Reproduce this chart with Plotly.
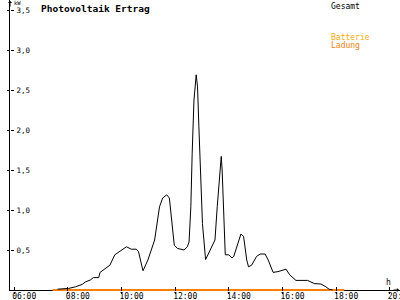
import plotly.graph_objects as go

DAY = "2024-06-01 "

# Gesamt (total PV yield, kW)
gesamt_time = ["07:37", "08:02", "08:17", "08:32", "08:39", "08:50", "08:57", "09:09", "09:12",
               "09:23", "09:34", "09:45", "09:56", "10:04", "10:11", "10:22", "10:33", "10:38",
               "10:48", "10:59", "11:14", "11:25", "11:32", "11:41", "11:47", "11:58", "12:05",
               "12:20", "12:27", "12:31", "12:35", "12:38", "12:42", "12:47", "12:50", "12:53",
               "12:57", "13:01", "13:08", "13:19", "13:29", "13:34", "13:39", "13:43", "13:45",
               "13:48", "13:52", "14:00", "14:07", "14:11", "14:18", "14:27", "14:33", "14:40",
               "14:44", "14:51", "15:02", "15:10", "15:21", "15:28", "15:39", "15:50", "16:08",
               "16:16", "16:30", "16:56", "17:11", "17:26", "17:37", "17:44", "17:52"]
gesamt_kw = [0.01, 0.02, 0.04, 0.07, 0.10, 0.125, 0.155, 0.155, 0.22,
             0.27, 0.31, 0.44, 0.48, 0.52, 0.54, 0.51, 0.51, 0.48,
             0.24, 0.375, 0.625, 1.04, 1.15, 1.19, 1.15, 0.56, 0.52,
             0.50, 0.54, 0.60, 1.04, 1.71, 2.375, 2.69, 2.54, 2.04,
             1.29, 0.83, 0.38, 0.52, 0.625, 1.04, 1.42, 1.67, 1.50,
             1.00, 0.44, 0.44, 0.40, 0.42, 0.54, 0.70, 0.67, 0.375,
             0.29, 0.31, 0.42, 0.45, 0.45, 0.375, 0.22, 0.23, 0.26,
             0.19, 0.12, 0.12, 0.08, 0.075, 0.04, 0.01, 0.0]

# Batterie Ladung (battery charge, kW)
ladung_time = ["07:26", "18:18"]
ladung_kw = [0.0, 0.0]

x_tick_labels = ["06:00", "08:00", "10:00", "12:00", "14:00", "16:00", "18:00", "20:00"]
y_tick_vals = [0.5, 1.0, 1.5, 2.0, 2.5, 3.0, 3.5]

FONT = "DejaVu Sans Mono"
ORANGE = "#FF8000"
AMBER = "#FFAA00"

W, H = 400, 300
ML, MB = 10, 9
PH = H - MB  # plot area height in px (291)

fig = go.Figure()
fig.add_trace(go.Scatter(x=[DAY + t for t in ladung_time], y=ladung_kw, mode="lines",
                         line=dict(color=ORANGE, width=2), hoverinfo="skip"))
fig.add_trace(go.Scatter(x=[DAY + t for t in gesamt_time], y=gesamt_kw, mode="lines",
                         line=dict(color="black", width=1), hoverinfo="skip"))

xrange = [DAY + "05:50:37", DAY + "20:22:44"]
kw_per_px = 3.625 / 290
yrange = [-kw_per_px, 3.625]
tickvals_x = [DAY + t for t in x_tick_labels]

fig.update_layout(
    width=W, height=H,
    margin=dict(l=ML, r=0, t=0, b=MB, autoexpand=False),
    paper_bgcolor="white", plot_bgcolor="white",
    showlegend=False,
    separators=",.",
    font=dict(family=FONT, size=8, color="black"),
    xaxis=dict(type="date", range=xrange, tickvals=tickvals_x, ticktext=x_tick_labels,
               ticks="outside", ticklen=2, tickcolor="black", showline=False,
               showgrid=False, zeroline=False, layer="below traces",
               ticklabelshift=10, ticklabelstandoff=-5, ticklabeloverflow="allow",
               automargin=False, tickfont=dict(family=FONT, size=8)),
    yaxis=dict(range=yrange, tickvals=y_tick_vals, showticklabels=False,
               ticks="outside", ticklen=2, tickcolor="black", showline=True, linecolor="black",
               linewidth=1, showgrid=False, zeroline=True, zerolinecolor="black",
               zerolinewidth=1, layer="below traces", automargin=False),
    xaxis2=dict(type="date", range=xrange, tickvals=tickvals_x, overlaying="x",
                ticks="inside", ticklen=4, tickcolor="black", showticklabels=False,
                showgrid=False, zeroline=False, showline=False),
    yaxis2=dict(range=yrange, tickvals=y_tick_vals, tickformat=".1f", overlaying="y",
                side="right", anchor="free", position=0,
                ticks="outside", ticklen=3, tickcolor="black", showticklabels=True,
                ticklabelstandoff=1, ticklabeloverflow="allow", automargin=False,
                showgrid=False, zeroline=False, showline=False,
                tickfont=dict(family=FONT, size=7.5)),
)
# empty trace to activate overlay axes (tick marks crossing the axis lines, y labels)
fig.add_trace(go.Scatter(x=[xrange[0]], y=[0], xaxis="x2", yaxis="y2", mode="none",
                         hoverinfo="skip"))

# axis arrows
fig.add_annotation(x=0, y=1, xref="paper", yref="paper", ax=0, ay=8, text="",
                   showarrow=True, arrowhead=1, arrowsize=0.7, arrowwidth=1, arrowcolor="black")
fig.add_annotation(x=1, y=0, xref="paper", yref="y", ax=-8, ay=0, text="",
                   showarrow=True, arrowhead=1, arrowsize=0.7, arrowwidth=1, arrowcolor="black")

texts = [
    dict(x=40, y=2, text="<b>Photovoltaik Ertrag</b>", size=9.5, color="black"),
    dict(x=13, y=-1, text="kW", size=5.5, color="black"),
    dict(x=330, y=1, text="Gesamt", size=8, color="black"),
    dict(x=330, y=32, text="Batterie", size=8, color=AMBER),
    dict(x=330, y=40, text="Ladung", size=8, color=ORANGE),
    dict(x=385, y=277, text="h", size=8, color="black"),
]
for t in texts:
    fig.add_annotation(x=(t["x"] - ML) / (W - ML), y=1 - t["y"] / PH, xref="paper", yref="paper",
                       text=t["text"], showarrow=False, xanchor="left", yanchor="top",
                       font=dict(family=FONT, size=t["size"], color=t["color"]),
                       borderpad=0)

fig.write_html("out.html")
